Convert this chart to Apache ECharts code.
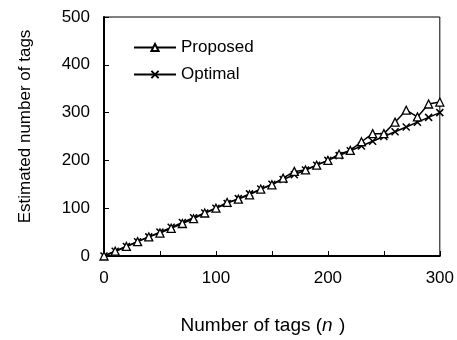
<!DOCTYPE html>
<html>
<head>
<meta charset="utf-8">
<script src="https://cdn.jsdelivr.net/npm/echarts@6/dist/echarts.min.js"></script>
<style>html,body{margin:0;padding:0;background:#fff}#c{width:457px;height:340px}</style>
</head>
<body>
<div id="c"></div>
<script>
var nValues = [0,10,20,30,40,50,60,70,80,90,100,110,120,130,140,150,160,170,180,190,200,210,220,230,240,250,260,270,280,290,300];
var proposed = [0,10,20,30,40,48,58,68,78,90,100,112,119,128,140,149,163,177,180,190,200,213,221,239,256,256,280,305,291,318,322];
var optimal = [0,10,20,30,40,50,60,70,80,90,100,110,120,130,140,150,160,170,180,190,200,210,220,230,240,250,260,270,280,290,300];
var xTickLabels = ['0','100','200','300'];
var yTickLabels = ['0','100','200','300','400','500'];

var chart = echarts.init(document.getElementById('c'), null, {renderer:'canvas'});
var font = 'Liberation Sans, Arial, sans-serif';
function pairs(vals){ return nValues.map(function(n,i){ return [n, vals[i]]; }); }
var xMark = 'path://M0,0L10,10M10,0L0,10';
chart.setOption({
  animation:false,
  grid:{left:104, right:17, top:17, bottom:82, show:true, borderColor:'#000', borderWidth:1},
  legend:{
    orient:'vertical', left:128, top:34, itemWidth:42, itemHeight:9, itemGap:10,
    textStyle:{fontFamily:font, fontSize:17, color:'#000'},
    data:['Proposed','Optimal']
  },
  xAxis:{
    type:'value', min:0, max:300, interval:50,
    name:'Number of tags ({i|n} )', nameLocation:'middle', nameGap:60,
    nameTextStyle:{fontFamily:font, fontSize:19, color:'#000', padding:[0,18,0,0], rich:{i:{fontStyle:'italic', fontFamily:font, fontSize:19, color:'#000', padding:[0,1,0,0]}}},
    axisLine:{lineStyle:{color:'#000', width:2}},
    axisTick:{inside:true, length:5, lineStyle:{color:'#000', width:1}},
    axisLabel:{fontFamily:font, fontSize:17, color:'#000', margin:14,
      formatter:function(v){ return xTickLabels.indexOf(String(v))>=0 ? String(v) : ''; }},
    splitLine:{show:false}
  },
  yAxis:{
    type:'value', min:0, max:500, interval:100,
    name:'Estimated number of tags', nameLocation:'middle', nameGap:70,
    nameTextStyle:{fontFamily:font, fontSize:17, color:'#000', padding:[0,0,0,20]},
    axisLine:{show:true, lineStyle:{color:'#000', width:2}},
    axisTick:{show:true, inside:true, length:5, lineStyle:{color:'#000', width:1}},
    axisLabel:{fontFamily:font, fontSize:17, color:'#000', margin:14,
      formatter:function(v){ return yTickLabels.indexOf(String(v))>=0 ? String(v) : ''; }},
    splitLine:{show:false}
  },
  series:[
    {name:'Proposed', type:'line', data:pairs(proposed), symbol:'triangle', symbolSize:8,
      lineStyle:{color:'#000', width:1.5}, itemStyle:{color:'#fff', borderColor:'#000', borderWidth:1.3}, z:3},
    {name:'Optimal', type:'line', data:pairs(optimal), symbol:xMark, symbolSize:7,
      lineStyle:{color:'#000', width:1.5}, itemStyle:{color:'#000', borderColor:'#000', borderWidth:1.5}, z:2}
  ]
});
</script>
</body>
</html>
